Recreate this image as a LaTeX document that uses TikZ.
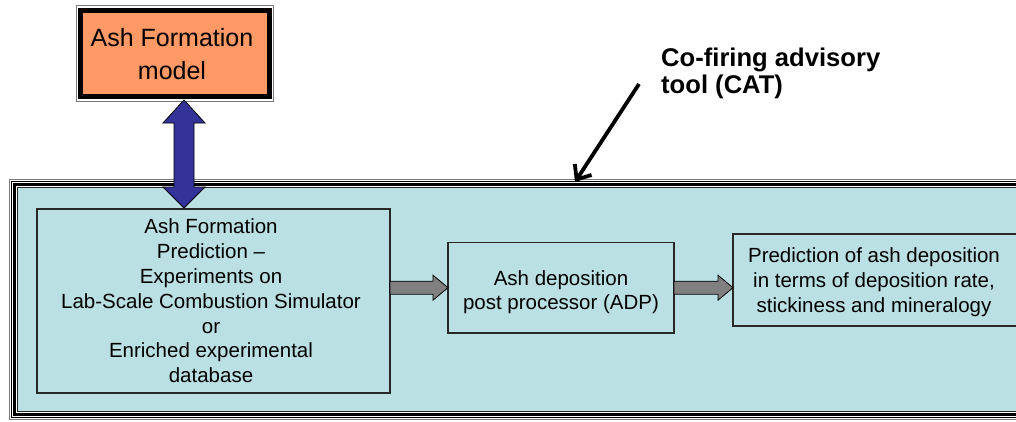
\documentclass[tikz,border=0pt]{standalone}
\usepackage{fontspec}
\setmainfont{Liberation Sans}
\usetikzlibrary{arrows.meta,calc}

\definecolor{panel}{RGB}{187,224,227}
\definecolor{modelorange}{RGB}{255,153,102}
\definecolor{linkblue}{RGB}{51,51,153}
\definecolor{flowgray}{RGB}{128,128,128}
\definecolor{edgegray}{RGB}{40,40,40}
\definecolor{rimgray}{RGB}{120,120,120}

% horizontal block arrow from #1 to #2, at the height of #1
\newcommand\flowarrow[2]{%
  \path[flow] let \p1=(#1), \p2=(#2) in
    (\x1,\y1+6.5) -- (\x2-15,\y1+6.5) -- (\x2-15,\y1+12.5) -- (\x2,\y1)
    -- (\x2-15,\y1-12.5) -- (\x2-15,\y1-6.5) -- (\x1,\y1-6.5) -- cycle;}

\begin{document}
\begin{tikzpicture}[x=1pt,y=-1pt,
  stage/.style={draw=edgegray, fill=panel, line width=1.2pt, inner sep=0pt, outer sep=0pt},
  txt/.style={font=\fontsize{20.5}{24.9}\selectfont, align=center, inner sep=0pt, text=black},
  flow/.style={fill=flowgray, draw=black, line width=0.8pt, line join=miter},
  link/.style={fill=linkblue, draw=black, line width=0.8pt, line join=miter}]

\clip (0,0) rectangle (1016,421);
\fill[white] (0,0) rectangle (1016,421);

% co-firing advisory tool panel (compound rim)
\draw[rimgray, line width=1pt] (9.5,179.5) rectangle (1040,419.6);
\draw[black, line width=1.3pt] (11.6,181.6) rectangle (1040,417.6);
\draw[black, line width=3pt] (14.6,184.6) rectangle (1040,414.6);
\draw[edgegray, line width=1pt, fill=panel] (17.2,187.6) rectangle (1040,411.8);

% stages inside the tool
\node[stage, minimum width=353pt, minimum height=184pt] (pred) at (213.5,301) {};
\node[stage, minimum width=226pt, minimum height=90.7pt] (adp) at (561,287.7) {};
\node[stage, minimum width=287pt, minimum height=92pt] (res) at (876.5,280) {};

\node[txt] (pred-text) at (211,300.8) {Ash Formation\\Prediction –\\Experiments on\\Lab-Scale Combustion Simulator\\or\\Enriched experimental\\database};
\node[txt] (adp-text) at (561,292.2) {Ash deposition\\post processor (ADP)};
\node[txt] (res-text) at (874,282) {Prediction of ash deposition\\in terms of deposition rate,\\stickiness and mineralogy};

% flow between the stages
\flowarrow{pred.east |- adp.west}{adp.west}
\flowarrow{adp.east}{res.west}

% external ash formation model
\draw[rimgray, line width=1pt] (76.5,5.5) rectangle (273.5,101.5);
\node[draw=black, line width=5pt, fill=modelorange, inner sep=0pt, outer sep=0pt,
      minimum width=189pt, minimum height=86.5pt] (model) at (175,53.25) {};
\node[font=\fontsize{25}{32.8}\selectfont, align=center, inner sep=0pt] (model-text) at (172,54) {Ash Formation\\model};

% two-way link between the model and the prediction stage
\coordinate (dtop) at (184,100);
\coordinate (dbot) at (184,208);
\path[link] (dtop) -- ($(dtop)+(21,23)$) -- ($(dtop)+(10,23)$) -- ($(dbot)+(10,-21)$)
  -- ($(dbot)+(21,-21)$) -- (dbot) -- ($(dbot)+(-21,-21)$) -- ($(dbot)+(-10,-21)$)
  -- ($(dtop)+(-10,23)$) -- ($(dtop)+(-21,23)$) -- cycle;

% tool label with its pointer
\node[font=\bfseries\fontsize{25.6}{26.6}\selectfont, align=left, anchor=north west, inner sep=0pt] (cat) at (661,48) {Co-firing advisory\\tool (CAT)};
\coordinate (ptail) at (639,84);
\coordinate (phead) at (575,182);
\draw[line width=3.8pt, -{Straight Barb[length=12pt,width=20pt]}] (ptail) -- (phead);

\end{tikzpicture}
\end{document}
